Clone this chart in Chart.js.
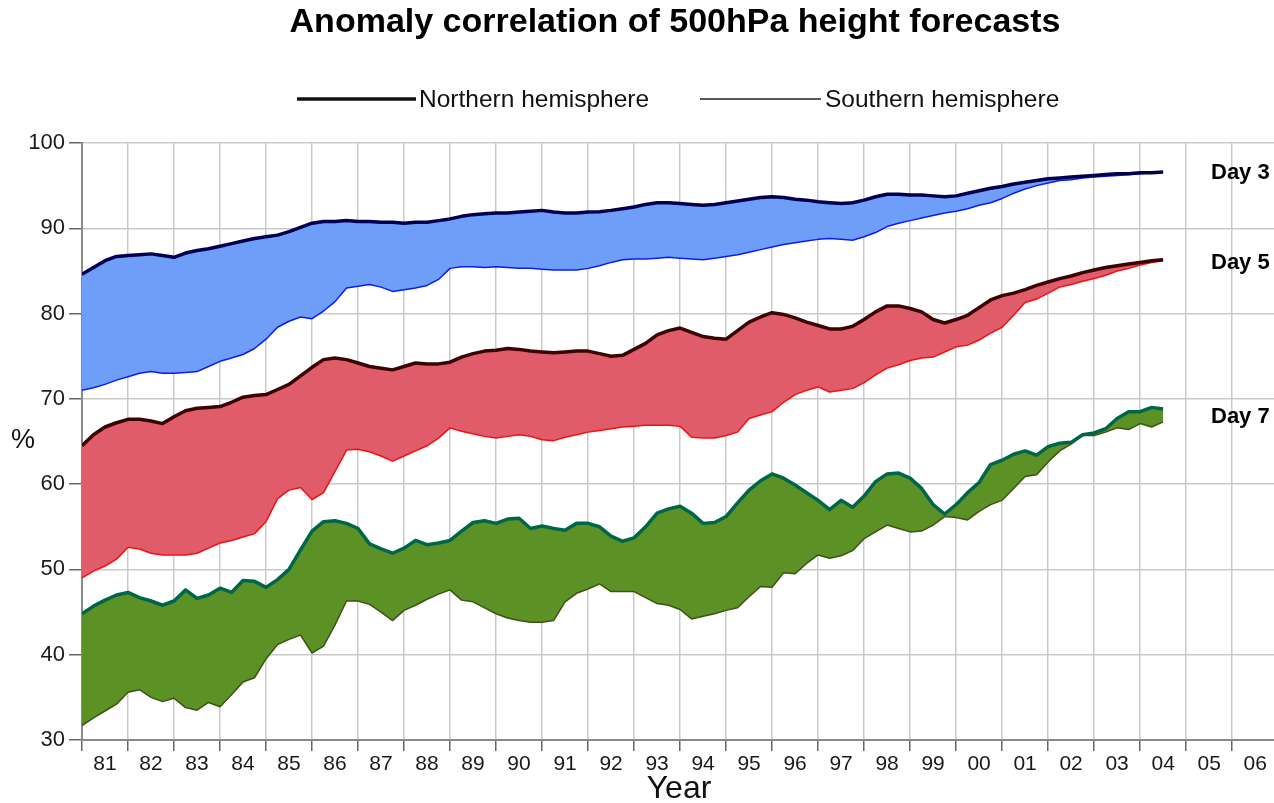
<!DOCTYPE html>
<html>
<head>
<meta charset="utf-8">
<title>Anomaly correlation of 500hPa height forecasts</title>
<script src="https://cdn.jsdelivr.net/npm/chart.js@4.4.1/dist/chart.umd.min.js"></script>
<style>
  html, body { margin: 0; padding: 0; background: #fff; }
  #chart { display: block; }
</style>
</head>
<body>
<canvas id="chart" width="1274" height="803"></canvas>
<script>
// sample times (decimal years, quarterly)
var years = [
    1981.00, 1981.25, 1981.50, 1981.75, 1982.00, 1982.25, 1982.50, 1982.75,
    1983.00, 1983.25, 1983.50, 1983.75, 1984.00, 1984.25, 1984.50, 1984.75,
    1985.00, 1985.25, 1985.50, 1985.75, 1986.00, 1986.25, 1986.50, 1986.75,
    1987.00, 1987.25, 1987.50, 1987.75, 1988.00, 1988.25, 1988.50, 1988.75,
    1989.00, 1989.25, 1989.50, 1989.75, 1990.00, 1990.25, 1990.50, 1990.75,
    1991.00, 1991.25, 1991.50, 1991.75, 1992.00, 1992.25, 1992.50, 1992.75,
    1993.00, 1993.25, 1993.50, 1993.75, 1994.00, 1994.25, 1994.50, 1994.75,
    1995.00, 1995.25, 1995.50, 1995.75, 1996.00, 1996.25, 1996.50, 1996.75,
    1997.00, 1997.25, 1997.50, 1997.75, 1998.00, 1998.25, 1998.50, 1998.75,
    1999.00, 1999.25, 1999.50, 1999.75, 2000.00, 2000.25, 2000.50, 2000.75,
    2001.00, 2001.25, 2001.50, 2001.75, 2002.00, 2002.25, 2002.50, 2002.75,
    2003.00, 2003.25, 2003.50, 2003.75, 2004.00, 2004.25, 2004.50
];

var yearLabels = ['81', '82', '83', '84', '85', '86', '87', '88', '89', '90', '91', '92', '93',
                  '94', '95', '96', '97', '98', '99', '00', '01', '02', '03', '04', '05', '06'];

var day3North = [
    84.6, 85.4, 86.2, 86.7, 86.8, 86.9, 87.0, 86.8, 86.6, 87.1, 87.4, 87.6,
    87.9, 88.2, 88.5, 88.8, 89.0, 89.2, 89.6, 90.1, 90.6, 90.8, 90.8, 90.9,
    90.8, 90.8, 90.7, 90.7, 90.6, 90.7, 90.7, 90.9, 91.1, 91.4, 91.6, 91.7,
    91.8, 91.8, 91.9, 92.0, 92.1, 91.9, 91.8, 91.8, 91.9, 91.95, 92.1, 92.3,
    92.5, 92.8, 93.0, 93.0, 92.9, 92.8, 92.7, 92.8, 93.0, 93.2, 93.4, 93.6,
    93.7, 93.6, 93.4, 93.3, 93.1, 93.0, 92.9, 93.0, 93.3, 93.7, 94.0, 94.0,
    93.9, 93.9, 93.8, 93.7, 93.8, 94.1, 94.4, 94.7, 94.9, 95.2, 95.4, 95.6,
    95.8, 95.9, 96.0, 96.1, 96.2, 96.3, 96.4, 96.4, 96.5, 96.5, 96.6
];
var day3South = [
    71.0, 71.3, 71.7, 72.2, 72.6, 73.0, 73.2, 73.0, 73.0, 73.1, 73.2, 73.8,
    74.4, 74.8, 75.2, 75.9, 77.0, 78.4, 79.1, 79.6, 79.4, 80.3, 81.4, 83.0,
    83.2, 83.4, 83.1, 82.6, 82.8, 83.0, 83.3, 84.0, 85.3, 85.5, 85.5, 85.4,
    85.5, 85.4, 85.3, 85.3, 85.2, 85.1, 85.1, 85.1, 85.3, 85.6, 86.0, 86.3,
    86.4, 86.4, 86.5, 86.6, 86.5, 86.4, 86.3, 86.5, 86.7, 86.9, 87.2, 87.5,
    87.8, 88.1, 88.3, 88.5, 88.7, 88.8, 88.7, 88.6, 89.0, 89.5, 90.2, 90.6,
    90.9, 91.2, 91.5, 91.8, 92.0, 92.3, 92.7, 93.0, 93.5, 94.1, 94.6, 95.0,
    95.3, 95.6, 95.7, 95.9, 96.0, 96.1, 96.2, 96.3, 96.4, 96.5, 96.6
];
var day5North = [
    64.5, 65.8, 66.7, 67.2, 67.6, 67.6, 67.4, 67.1, 67.9, 68.6, 68.9, 69.0,
    69.1, 69.6, 70.2, 70.4, 70.5, 71.1, 71.7, 72.7, 73.7, 74.6, 74.8, 74.6,
    74.2, 73.8, 73.6, 73.4, 73.8, 74.2, 74.1, 74.1, 74.3, 74.9, 75.3, 75.6,
    75.7, 75.9, 75.8, 75.6, 75.5, 75.4, 75.5, 75.6, 75.6, 75.3, 75.0, 75.1,
    75.8, 76.5, 77.5, 78.0, 78.3, 77.8, 77.3, 77.1, 77.0, 78.0, 79.0, 79.6,
    80.1, 79.9, 79.5, 79.0, 78.6, 78.2, 78.2, 78.5, 79.3, 80.2, 80.9, 80.9,
    80.6, 80.2, 79.3, 78.9, 79.3, 79.8, 80.7, 81.6, 82.1, 82.4, 82.8, 83.3,
    83.7, 84.1, 84.4, 84.8, 85.1, 85.4, 85.6, 85.8, 86.0, 86.2, 86.3
];
var day5South = [
    49.0, 49.8, 50.4, 51.2, 52.6, 52.4, 51.9, 51.7, 51.7, 51.7, 51.9, 52.5,
    53.1, 53.4, 53.8, 54.2, 55.6, 58.3, 59.3, 59.6, 58.2, 59.0, 61.5, 64.0,
    64.1, 63.8, 63.3, 62.7, 63.3, 63.9, 64.5, 65.4, 66.6, 66.2, 65.9, 65.6,
    65.4, 65.6, 65.8, 65.6, 65.2, 65.1, 65.5, 65.8, 66.1, 66.3, 66.5, 66.7,
    66.8, 66.9, 66.9, 66.9, 66.8, 65.5, 65.4, 65.4, 65.7, 66.1, 67.7, 68.1,
    68.5, 69.6, 70.5, 71.0, 71.4, 70.8, 71.0, 71.2, 71.9, 72.8, 73.6, 74.0,
    74.5, 74.8, 74.9, 75.5, 76.1, 76.3, 76.9, 77.7, 78.4, 79.8, 81.3, 81.7,
    82.4, 83.1, 83.4, 83.8, 84.1, 84.5, 85.0, 85.3, 85.7, 86.0, 86.2
];
var day7North = [
    44.8, 45.7, 46.4, 47.0, 47.3, 46.7, 46.3, 45.8, 46.3, 47.6, 46.6, 47.0,
    47.8, 47.3, 48.7, 48.6, 47.9, 48.8, 50.0, 52.3, 54.5, 55.6, 55.7, 55.4,
    54.8, 53.0, 52.4, 51.9, 52.5, 53.4, 52.9, 53.1, 53.4, 54.5, 55.5, 55.7,
    55.4, 55.9, 56.0, 54.8, 55.1, 54.8, 54.6, 55.4, 55.4, 55.0, 53.9, 53.3,
    53.7, 55.0, 56.6, 57.1, 57.4, 56.6, 55.4, 55.5, 56.2, 57.8, 59.3, 60.4,
    61.2, 60.7, 59.9, 59.0, 58.1, 57.0, 58.1, 57.3, 58.6, 60.3, 61.2, 61.3,
    60.7, 59.5, 57.6, 56.5, 57.6, 59.0, 60.2, 62.3, 62.8, 63.5, 63.9, 63.4,
    64.4, 64.8, 64.9, 65.8, 66.0, 66.5, 67.7, 68.5, 68.5, 69.0, 68.8
];
var day7South = [
    31.7, 32.6, 33.4, 34.2, 35.6, 35.9, 35.0, 34.5, 34.9, 33.8, 33.5, 34.4,
    33.9, 35.3, 36.8, 37.3, 39.5, 41.2, 41.8, 42.3, 40.2, 41.0, 43.5, 46.3,
    46.3, 45.9, 45.0, 44.0, 45.2, 45.8, 46.5, 47.1, 47.6, 46.4, 46.2, 45.5,
    44.8, 44.3, 44.0, 43.8, 43.8, 44.0, 46.2, 47.2, 47.7, 48.3, 47.4, 47.4,
    47.4, 46.7, 46.0, 45.8, 45.3, 44.2, 44.5, 44.8, 45.2, 45.5, 46.8, 48.0,
    47.9, 49.6, 49.5, 50.7, 51.7, 51.3, 51.6, 52.2, 53.6, 54.4, 55.2, 54.8,
    54.4, 54.5, 55.2, 56.2, 56.1, 55.8, 56.8, 57.6, 58.1, 59.5, 60.9, 61.1,
    62.6, 63.9, 64.7, 65.7, 65.7, 66.1, 66.6, 66.4, 67.1, 66.7, 67.3
];

var dayNames = ['Day 3', 'Day 5', 'Day 7'];
var dayLabelLevels = [96.5, 85.9, 67.9];
var legendNames = ['Northern hemisphere', 'Southern hemisphere'];

var FONT = "'Liberation Sans', Arial, Helvetica, sans-serif";
Chart.defaults.font.family = FONT;
Chart.defaults.color = '#222';

function toPoints(values) {
    return values.map(function (v, i) { return { x: years[i], y: v }; });
}

var bands = [
    { north: day3North, south: day3South, fill: '#6e9ef7', northColor: '#00004e', southColor: '#0a1aff' },
    { north: day5North, south: day5South, fill: '#e05c6a', northColor: '#380404', southColor: '#ff0a0a' },
    { north: day7North, south: day7South, fill: '#5c9225', northColor: '#00664a', southColor: '#3c5410' }
];

var datasets = [];
bands.forEach(function (b) {
    datasets.push({
        data: toPoints(b.north),
        borderColor: b.northColor,
        borderWidth: 3.5,
        backgroundColor: b.fill,
        fill: { target: '+1', above: b.fill, below: b.fill }
    });
    datasets.push({
        data: toPoints(b.south),
        borderColor: b.southColor,
        borderWidth: 1.5,
        fill: false
    });
});

// title, legend, axis titles and the "Day n" labels
var annotations = {
    id: 'annotations',
    afterDraw: function (chart) {
        var ctx = chart.ctx;
        var yScale = chart.scales.y;
        ctx.save();
        ctx.fillStyle = '#000';
        ctx.textBaseline = 'middle';

        ctx.textAlign = 'center';
        ctx.font = 'bold 34px ' + FONT;
        ctx.fillText('Anomaly correlation of 500hPa height forecasts', 675, 23);

        // legend
        ctx.lineCap = 'butt';
        ctx.strokeStyle = '#111';
        ctx.lineWidth = 3.5;
        ctx.beginPath(); ctx.moveTo(297, 99); ctx.lineTo(416, 99); ctx.stroke();
        ctx.strokeStyle = '#5a5a5a';
        ctx.lineWidth = 2;
        ctx.beginPath(); ctx.moveTo(700, 99); ctx.lineTo(821, 99); ctx.stroke();
        ctx.textAlign = 'left';
        ctx.font = '24.5px ' + FONT;
        ctx.fillStyle = '#111';
        ctx.fillText(legendNames[0], 419, 100);
        ctx.fillText(legendNames[1], 825, 100);

        // axis titles
        ctx.textAlign = 'center';
        ctx.font = '27px ' + FONT;
        ctx.fillText('%', 23, 441);
        ctx.font = '32px ' + FONT;
        ctx.fillText('Year', 679, 789);

        // day labels
        ctx.textAlign = 'left';
        ctx.font = 'bold 22px ' + FONT;
        ctx.fillStyle = '#000';
        dayNames.forEach(function (name, i) {
            ctx.fillText(name, 1211, yScale.getPixelForValue(dayLabelLevels[i]));
        });
        ctx.restore();
    }
};

new Chart(document.getElementById('chart'), {
    type: 'line',
    data: { datasets: datasets },
    plugins: [annotations],
    options: {
        responsive: false,
        animation: false,
        devicePixelRatio: 1,
        layout: { padding: { top: 143, left: 0, right: 0, bottom: 0 } },
        elements: {
            point: { radius: 0 },
            line: { tension: 0, borderJoinStyle: 'round' }
        },
        plugins: {
            legend: { display: false },
            tooltip: { enabled: false },
            filler: { drawTime: 'beforeDatasetsDraw' }
        },
        scales: {
            x: {
                type: 'linear',
                min: 1981,
                max: 2006.91,
                afterBuildTicks: function (scale) {
                    scale.ticks = yearLabels.map(function (l, i) { return { value: 1981.5 + i }; });
                },
                afterFit: function (scale) { scale.height = 63; },
                grid: { offset: true, color: '#cacaca', lineWidth: 1.5, tickLength: 11, tickColor: '#666', tickWidth: 1.5 },
                border: { color: '#8a8a8a', width: 2 },
                ticks: {
                    autoSkip: false,
                    maxRotation: 0,
                    padding: 1,
                    color: '#1a1a1a',
                    font: { size: 21 },
                    callback: function (v, i) { return yearLabels[i]; }
                }
            },
            y: {
                min: 30,
                max: 100,
                afterFit: function (scale) { scale.width = 82; },
                grid: { color: '#cacaca', lineWidth: 1.5, tickLength: 13, tickColor: '#666', tickWidth: 1.5 },
                border: { color: '#8a8a8a', width: 2 },
                ticks: { stepSize: 10, padding: 4, color: '#1a1a1a', font: { size: 22 } }
            }
        }
    }
});
</script>
</body>
</html>
